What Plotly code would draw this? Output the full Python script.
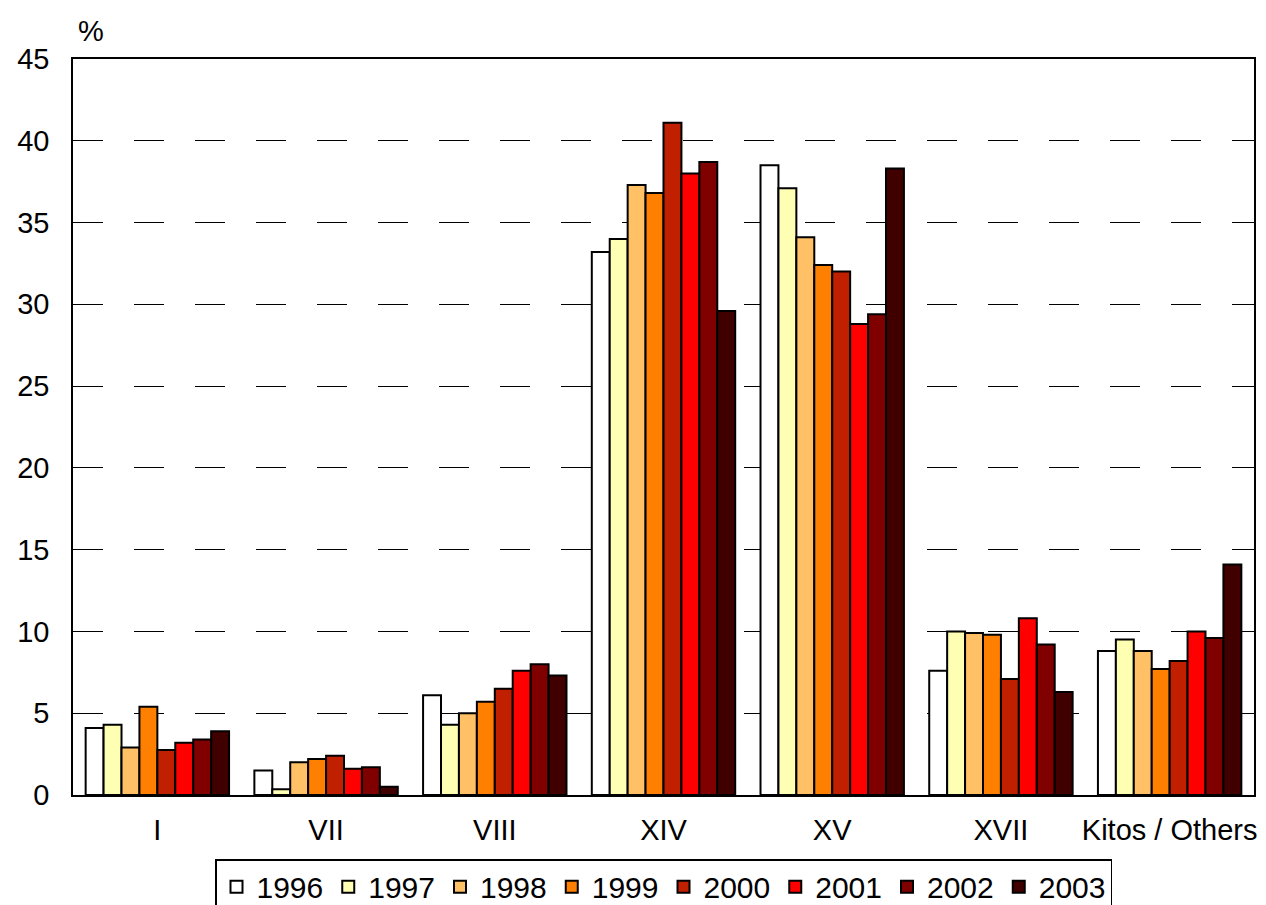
import plotly.graph_objects as go

categories = ["I", "VII", "VIII", "XIV", "XV", "XVII", "Kitos / Others"]
years = ["1996", "1997", "1998", "1999", "2000", "2001", "2002", "2003"]

v1996 = [4.1, 1.5, 6.1, 33.2, 38.5, 7.6, 8.8]
v1997 = [4.3, 0.35, 4.3, 34.0, 37.1, 10.0, 9.5]
v1998 = [2.9, 2.0, 5.0, 37.3, 34.1, 9.9, 8.8]
v1999 = [5.4, 2.2, 5.7, 36.8, 32.4, 9.8, 7.7]
v2000 = [2.75, 2.4, 6.5, 41.1, 32.0, 7.1, 8.2]
v2001 = [3.2, 1.6, 7.6, 38.0, 28.8, 10.8, 10.0]
v2002 = [3.4, 1.7, 8.0, 38.7, 29.4, 9.2, 9.6]
v2003 = [3.9, 0.5, 7.3, 29.6, 38.3, 6.3, 14.1]

series = [v1996, v1997, v1998, v1999, v2000, v2001, v2002, v2003]
colors = ["#FFFFFF", "#FFFFB3", "#FFC066", "#FF8000", "#C02000", "#FF0000", "#800000", "#400000"]

font_family = "Liberation Sans, Arial, sans-serif"

fig = go.Figure()
for y, vals, c in zip(years, series, colors):
    fig.add_trace(go.Bar(
        name=y, x=categories, y=vals,
        marker=dict(color=c, line=dict(color="black", width=2)),
    ))

fig.update_layout(
    width=1258, height=897,
    margin=dict(l=65, r=12, t=51, b=110, autoexpand=False),
    paper_bgcolor="white", plot_bgcolor="white",
    barmode="group", bargap=0.15, bargroupgap=0,
    font=dict(family=font_family, size=29, color="black"),
    showlegend=True,
    legend=dict(
        orientation="h", x=0.5, xanchor="center",
        yref="container", y=0.051, yanchor="top",
        bordercolor="black", borderwidth=1.5, bgcolor="white",
        font=dict(family=font_family, size=30, color="black"),
        itemwidth=30, tracegroupgap=0,
    ),
    xaxis=dict(
        showline=True, linecolor="black", linewidth=1.5, mirror=True,
        showgrid=False, ticks="", ticklabelstandoff=8, automargin=False,
        tickfont=dict(size=29),
    ),
    yaxis=dict(
        range=[0, 45], dtick=5, tick0=0,
        showline=True, linecolor="black", linewidth=1.5, mirror=True,
        showgrid=True, gridcolor="black", gridwidth=1.2, griddash="30px,31px",
        zeroline=False, ticks="", ticklabelstandoff=16, automargin=False,
        tickfont=dict(size=29),
    ),
    annotations=[dict(
        text="%", xref="paper", yref="paper", x=0.015, y=1.0, yshift=10,
        xanchor="center", yanchor="bottom", showarrow=False,
        font=dict(family=font_family, size=29, color="black"),
    )],
)

fig.write_html("out.html")
